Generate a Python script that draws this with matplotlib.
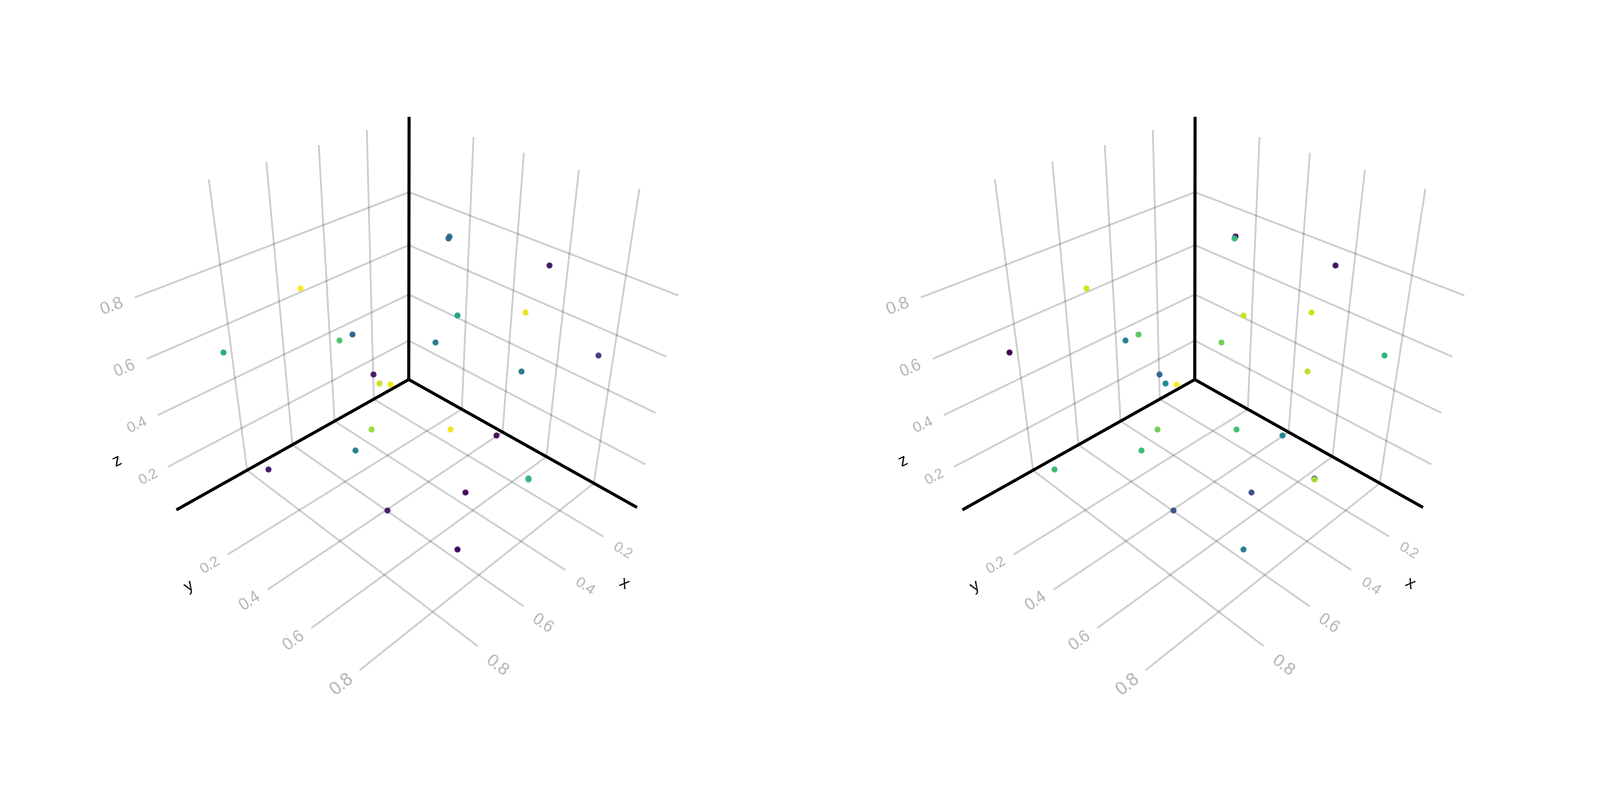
import math

import matplotlib
matplotlib.use('Agg')
import matplotlib.pyplot as plt
from mpl_toolkits.mplot3d import proj3d

plt.rcParams['font.family'] = ['Liberation Sans', 'DejaVu Sans']

x_values = [0.830, 0.512, 0.359, 0.297, 0.202, 0.169, 0.113,
            0.009, 0.009, 0.009, 0.009, 0.009, 0.009, 0.009, 0.009,
            0.743, 0.459, 0.336, 0.597, 0.131, 0.038, 0.144, 0.149, 0.350, 0.566]
y_values = [-0.084, -0.084, -0.084, -0.084, -0.084, -0.084, -0.084,
            0.111, 0.105, 0.530, 0.454, 0.158, 0.053, 0.746, 0.457,
            -0.039, 0.096, 0.048, 0.401, 0.250, 0.393, 0.626, 0.630, 0.521, 0.681]
z_values = [0.512, 0.615, 0.351, 0.352, 0.138, 0.078, 0.049,
            0.699, 0.690, 0.739, 0.540, 0.409, 0.251, 0.506, 0.313,
            0.020, 0.020, 0.020, 0.020, 0.020, 0.020, 0.020, 0.020, 0.020, 0.020]
colors_left = [0.62, 1.00, 0.72, 0.32, 0.07, 0.92, 0.97,
               0.42, 0.33, 0.07, 0.97, 0.58, 0.42, 0.18, 0.40,
               0.07, 0.45, 0.85, 0.08, 0.98, 0.03, 0.60, 0.68, 0.03, 0.02]
colors_right = [0.00, 0.93, 0.45, 0.75, 0.33, 0.47, 1.00,
                0.03, 0.67, 0.05, 0.93, 0.92, 0.78, 0.65, 0.90,
                0.68, 0.68, 0.78, 0.25, 0.70, 0.45, 0.30, 0.87, 0.25, 0.42]

ticks = [0.2, 0.4, 0.6, 0.8]
tick_labels = ['0.2', '0.4', '0.6', '0.8']
xlim = (0.0090, 1.0834)
ylim = (-0.0837, 0.9701)
zlim = (0.0198, 1.0613)

LABEL = '#b0b0b0'


def put_label(ax, pos, direction, text, **kwargs):
    # 3D axes ignore rotation on their own texts, so place it in 2D along the projected direction
    M = ax.get_proj()
    u0, v0, _ = proj3d.proj_transform(*pos, M)
    u1, v1, _ = proj3d.proj_transform(*[p + d for p, d in zip(pos, direction)], M)
    angle = math.degrees(math.atan2(v1 - v0, u1 - u0))
    ax.text2D(u0, v0, text, transform=ax.transData, rotation=angle, ha='center', va='center',
              rotation_mode='anchor', **kwargs)


def draw_panel(ax, colors):
    x0, x1 = xlim
    y0, y1 = ylim
    z0, z1 = zlim
    grid = dict(color='black', alpha=0.2, lw=1.3, zorder=1, solid_capstyle='butt')
    for t in ticks:
        ax.plot([t, t], [y0, y0], [z0, z1], **grid)
        ax.plot([t, t], [y0, y1], [z0, z0], **grid)
        ax.plot([x0, x0], [t, t], [z0, z1], **grid)
        ax.plot([x0, x1], [t, t], [z0, z0], **grid)
        ax.plot([x0, x1], [y0, y0], [t, t], **grid)
        ax.plot([x0, x0], [y0, y1], [t, t], **grid)

    spine = dict(color='black', lw=2.2, zorder=2, solid_capstyle='butt')
    ax.plot([x0, x1], [y0, y0], [z0, z0], **spine)
    ax.plot([x0, x0], [y0, y1], [z0, z0], **spine)
    ax.plot([x0, x0], [y0, y0], [z0, z1], **spine)

    # one call per point keeps the overlapping pairs in reading order
    for x, y, z, c in zip(x_values, y_values, z_values, colors):
        ax.scatter([x], [y], [z], c=[c], cmap='viridis', vmin=0, vmax=1, s=19,
                   linewidths=0, depthshade=False, zorder=3)

    ax.set_xlim(x0, x1, view_margin=0)
    ax.set_ylim(y0, y1, view_margin=0)
    ax.set_zlim(z0, z1, view_margin=0)
    ax.set_box_aspect((1, 0.9837, 0.9797), zoom=0.7786)
    ax.view_init(33.807, 45.028)
    ax.set_proj_type('persp', focal_length=0.2085)
    ax.set_axis_off()
    ax.patch.set_visible(False)

    along_x = (-0.05, 0, 0)
    along_y = (0, 0.05, 0)
    for t, lab, size in zip(ticks, tick_labels, [10.5, 11, 11.5, 12.5]):
        put_label(ax, (t + 0.012, y1 + 0.078, z0), along_y, lab, fontsize=size, color=LABEL)
    for t, lab, size in zip(ticks, tick_labels, [11, 11.5, 12, 13]):
        put_label(ax, (x1 + 0.062, t, z0), along_x, lab, fontsize=size, color=LABEL)
    for t, lab, size in zip(ticks, tick_labels, [10.5, 11, 11.5, 12.5]):
        put_label(ax, (x1 + 0.07, y0, t), along_x, lab, fontsize=size, color=LABEL)

    put_label(ax, (0.32, y1 + 0.155, z0), along_y, 'x', fontsize=12, color='black')
    put_label(ax, (x1 + 0.155, 0.23, z0), along_x, 'y', fontsize=12, color='black')
    put_label(ax, (x1 + 0.155, y0, 0.31), along_x, 'z', fontsize=12, color='black')


fig = plt.figure(figsize=(16, 8), dpi=100)
side = 780 / 1600, 780 / 800
bottom = 24.46 / 800
ax1 = fig.add_axes([6.57 / 1600, bottom, *side], projection='3d', computed_zorder=False)
ax2 = fig.add_axes([792.57 / 1600, bottom, *side], projection='3d', computed_zorder=False)
draw_panel(ax1, colors_left)
draw_panel(ax2, colors_right)

fig.savefig('out.png', dpi=100)
